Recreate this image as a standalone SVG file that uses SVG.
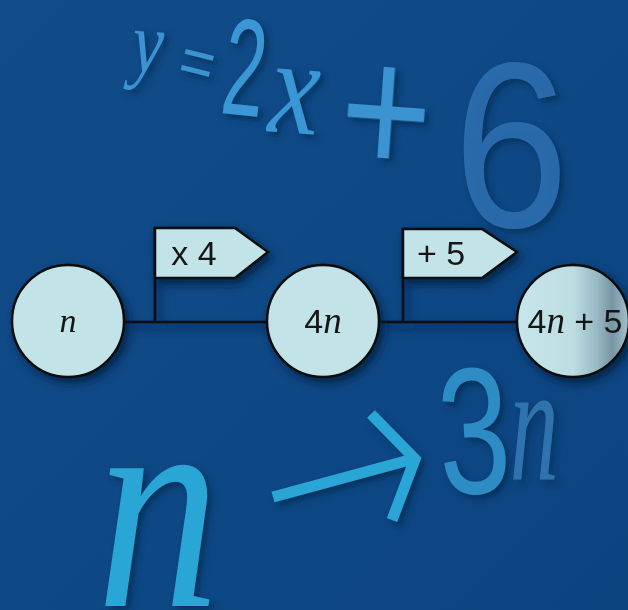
<svg xmlns="http://www.w3.org/2000/svg" width="628" height="610" viewBox="0 0 628 610">
<defs>
<linearGradient id="bg" x1="0" y1="0" x2="1" y2="1">
<stop offset="0" stop-color="#114c89"/>
<stop offset="0.5" stop-color="#0e4985"/>
<stop offset="1" stop-color="#0c4480"/>
</linearGradient>
<linearGradient id="shade" x1="0" y1="0" x2="1" y2="0">
<stop offset="0" stop-color="#c6e6ea"/>
<stop offset="0.5" stop-color="#bcdde2"/>
<stop offset="0.72" stop-color="#97b7c3"/>
<stop offset="0.85" stop-color="#7795a4"/>
<stop offset="1" stop-color="#a5c4cc"/>
</linearGradient>
<filter id="sh" x="-30%" y="-30%" width="160%" height="160%">
<feDropShadow dx="4" dy="5" stdDeviation="4" flood-color="#031a35" flood-opacity="0.75"/>
</filter>
<filter id="tsh" x="-10%" y="-10%" width="120%" height="120%">
<feDropShadow dx="4" dy="4" stdDeviation="3" flood-color="#05264d" flood-opacity="0.7"/>
</filter>
</defs>
<style>
.node{fill:#c2e3e8;stroke:#0b0b0b;stroke-width:2.5}
.flag{fill:#c2e3e8;stroke:#0b0b0b;stroke-width:2.5;stroke-linejoin:miter}
.wire{stroke:#0b0b0b;stroke-width:2.5;fill:none}
.lbl{font-family:"Liberation Sans",Arial,sans-serif;font-size:34px;fill:#161616}
.it{font-family:"Liberation Serif","Times New Roman",serif;font-style:italic}
.bgs{font-family:"Liberation Sans",Arial,sans-serif}
.bgi{font-family:"Liberation Serif","Times New Roman",serif;font-style:italic}
</style>
<rect width="628" height="610" fill="url(#bg)"/>

<g id="background-math" filter="url(#tsh)">
<text class="bgi" transform="translate(146,72) rotate(4) scale(0.8,1)" font-size="88" fill="#3a93d2" text-anchor="middle">y</text>
<text class="bgs" transform="translate(192,84) rotate(14) scale(0.9,1)" font-size="66" fill="#3a93d2" text-anchor="middle">=</text>
<text class="bgs" transform="translate(240,115) rotate(6) scale(0.55,1)" font-size="138" fill="#3b96d5" text-anchor="middle">2</text>
<text class="bgi" transform="translate(292,133) rotate(4) scale(0.82,1)" font-size="138" fill="#3b96d5" text-anchor="middle">x</text>
<text class="bgs" transform="translate(382,174) rotate(4) scale(0.85,1)" font-size="185" fill="#3a93d2" text-anchor="middle">+</text>
<text class="bgs" transform="translate(511,227) scale(0.88,1)" font-size="236" fill="#2c6fb0" fill-opacity="0.88" text-anchor="middle">6</text>
<text class="bgi" transform="translate(158,606) scale(0.82,1)" font-size="300" fill="#2aa6d6" text-anchor="middle">n</text>
<path d="M273,497 L413,459 M371,414 L415,459 L392,520" stroke="#2aa6d6" stroke-width="11" fill="none" stroke-linejoin="miter" stroke-linecap="butt"/>
<text class="bgs" transform="translate(477,493) rotate(-3) scale(0.72,1)" font-size="180" fill="#2d8cc4" text-anchor="middle">3</text>
<text class="bgi" transform="translate(534,480) scale(0.58,1)" font-size="168" fill="#3d86c2" fill-opacity="0.7" text-anchor="middle">n</text>
</g>

<g id="connectors" filter="url(#sh)">
<path class="wire" d="M124,322 L268,322"/>
<path class="wire" d="M379,322 L518,322"/>
<path class="wire" d="M155,322 L155,228"/>
<path class="wire" d="M403,322 L403,229"/>
</g>

<g id="flag-x4" filter="url(#sh)">
<polygon class="flag" points="155,228 235,228 268,252 235,278 155,278"/>
<text class="lbl" x="194" y="265" text-anchor="middle">x 4</text>
</g>

<g id="flag-plus5" filter="url(#sh)">
<polygon class="flag" points="403,229 482,229 517,252 482,278 403,278"/>
<text class="lbl" x="441" y="265" text-anchor="middle">+ 5</text>
</g>

<g id="node-n" filter="url(#sh)">
<circle class="node" cx="68" cy="321" r="56"/>
<text class="lbl it" x="68" y="332" text-anchor="middle" font-size="38">n</text>
</g>

<g id="node-4n" filter="url(#sh)">
<circle class="node" cx="323" cy="321" r="56"/>
<text class="lbl" x="323" y="333" text-anchor="middle">4<tspan class="it" font-size="37">n</tspan></text>
</g>

<g id="node-4n5" filter="url(#sh)">
<circle cx="573" cy="321" r="56" fill="url(#shade)" stroke="#0b0b0b" stroke-width="2.5"/>
<text class="lbl" x="575" y="333" text-anchor="middle">4<tspan class="it" font-size="37">n</tspan> + 5</text>
</g>
</svg>
